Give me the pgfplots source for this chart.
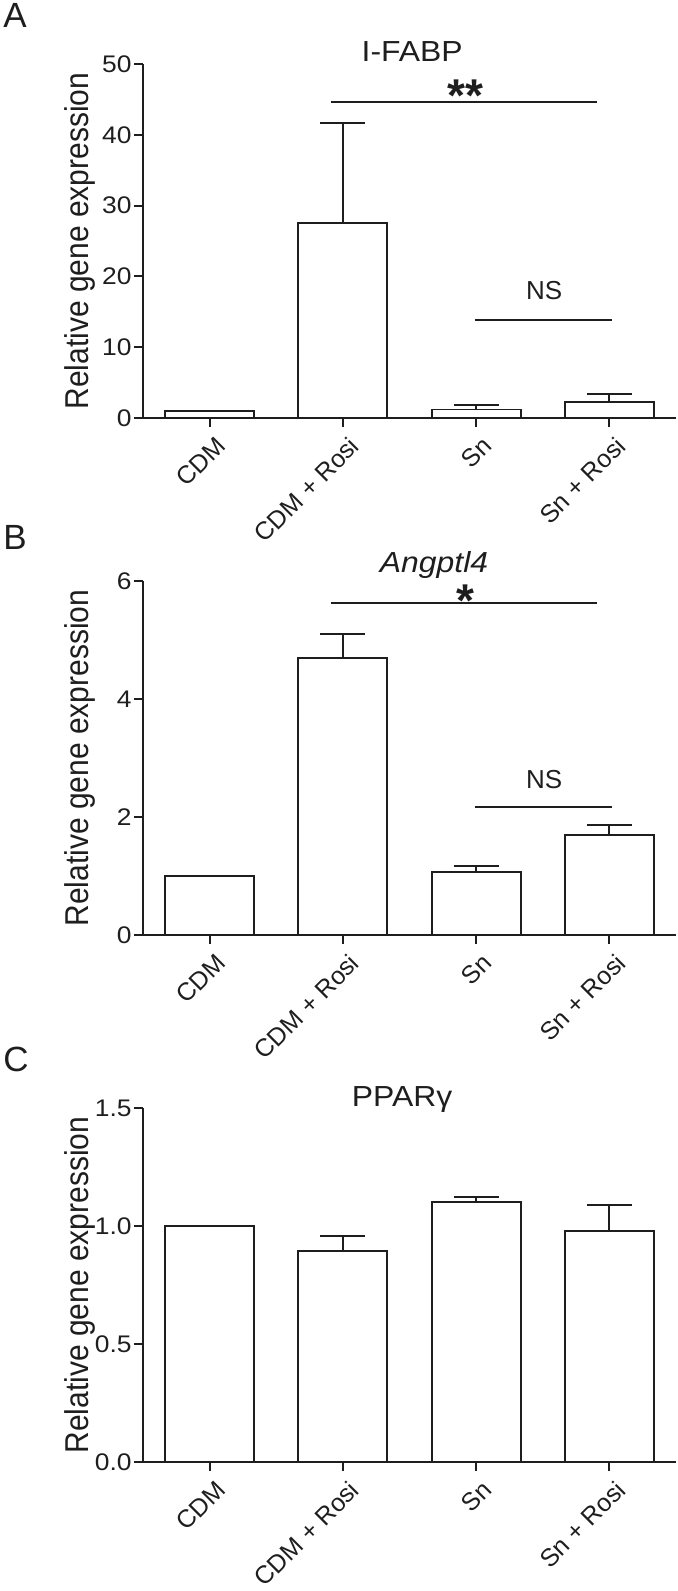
\documentclass[border=0pt]{standalone}
\usepackage{fontspec}
\setmainfont{Liberation Sans}
\usepackage{graphicx}
\usepackage{pgfplots}
\pgfplotsset{compat=1.18}
\usepackage{pgfplotstable}

\pgfplotstableread{
x y e
0 1.00 0
1 27.5 14.2
2 1.20 0.60
3 2.30 1.10
}\dataA
\pgfplotstableread{
x y e
0 1.00 0
1 4.70 0.41
2 1.07 0.10
3 1.69 0.175
}\dataB
\pgfplotstableread{
x y e
0 1.000 0
1 0.894 0.064
2 1.102 0.022
3 0.979 0.110
}\dataC

\newcommand{\hs}[1]{\scalebox{1.1}[1]{#1}}
\definecolor{ink}{RGB}{30,30,30}

\pgfplotsset{
  panel/.style={
    scale only axis, width=266.5pt, height=177pt,
    xmin=-0.5, xmax=3.5, ymin=0,
    axis x line*=bottom, axis y line*=left,
    axis line style={line width=1pt, -, ink},
    tick align=outside, major tick length=4.5pt,
    tick style={line width=1pt, ink},
    xtick={0,1,2,3},
    xticklabels={CDM, CDM + Rosi, Sn, Sn + Rosi},
    xticklabel style={rotate=45, anchor=north east, font=\fontsize{12.5}{13}\selectfont, inner sep=1pt, yshift=-3.5pt, text=ink},
    yticklabel style={font=\fontsize{12}{12}\selectfont, inner sep=1pt, text=ink},
    ylabel={\scalebox{1}[1.1]{Relative gene expression}},
    every axis y label/.style={at={(axis description cs:-0.118,0.5)}, anchor=center, rotate=90, font=\fontsize{15}{16}\selectfont, text=ink},
    every axis title/.style={anchor=base, font=\fontsize{14.5}{15}\selectfont, text=ink},
    clip=false,
    ybar, bar width=44.5pt,
  },
  barstyle/.style={
    draw=ink, fill=white, line width=0.9pt,
    error bars/.cd, y dir=plus, y explicit,
    error bar style={line width=1pt, ink},
    error mark options={rotate=90, mark size=11.25pt, line width=1pt, ink},
  },
}

\begin{document}
\begin{tikzpicture}
\useasboundingbox (0,0) rectangle (339pt,795.5pt);

\node[anchor=base west, font=\fontsize{17.5}{18}\selectfont, text=ink, inner sep=0pt] at (1.5pt,781.5pt) {A};
\node[anchor=base west, font=\fontsize{17.5}{18}\selectfont, text=ink, inner sep=0pt] at (1.5pt,520.5pt) {B};
\node[anchor=base west, font=\fontsize{17.5}{18}\selectfont, text=ink, inner sep=0pt] at (1.5pt,259.5pt) {C};

% Panel A
\begin{axis}[panel, at={(71.5pt,586.5pt)}, anchor=south west,
  ymax=50, ytick={0,10,20,30,40,50},
  yticklabels={\hs{0},\hs{10},\hs{20},\hs{30},\hs{40},\hs{50}},
  title={\hs{I-FABP}}, title style={at={(axis description cs:0.505,1.006)}}]
\addplot[barstyle] table[x=x, y=y, y error=e] {\dataA};
\draw[line width=1pt, ink] (axis cs:0.91,44.6) -- (axis cs:2.91,44.6);
\node[anchor=base, font=\fontsize{23}{23}\selectfont\bfseries, text=ink] at (axis cs:1.92,43.3) {**};
\draw[line width=1pt, ink] (axis cs:1.99,13.8) -- (axis cs:3.02,13.8);
\node[anchor=base, font=\fontsize{13}{13}\selectfont, text=ink] at (axis cs:2.51,16.7) {NS};
\end{axis}

% Panel B
\begin{axis}[panel, at={(71.5pt,328pt)}, anchor=south west,
  ymax=6, ytick={0,2,4,6},
  yticklabels={\hs{0},\hs{2},\hs{4},\hs{6}},
  title={\hs{\textit{Angptl4}}}, title style={at={(axis description cs:0.546,1.023)}}]
\addplot[barstyle] table[x=x, y=y, y error=e] {\dataB};
\draw[line width=1pt, ink] (axis cs:0.91,5.62) -- (axis cs:2.91,5.62);
\node[anchor=base, font=\fontsize{23}{23}\selectfont\bfseries, text=ink] at (axis cs:1.92,5.40) {*};
\draw[line width=1pt, ink] (axis cs:1.99,2.17) -- (axis cs:3.02,2.17);
\node[anchor=base, font=\fontsize{13}{13}\selectfont, text=ink] at (axis cs:2.51,2.48) {NS};
\end{axis}

% Panel C
\begin{axis}[panel, at={(71.5pt,64.5pt)}, anchor=south west,
  ymax=1.5, ytick={0,0.5,1,1.5},
  yticklabels={\hs{0.0},\hs{0.5},\hs{1.0},\hs{1.5}},
  title={\hs{PPARγ}}, title style={at={(axis description cs:0.486,1.003)}}]
\addplot[barstyle] table[x=x, y=y, y error=e] {\dataC};
\end{axis}
\end{tikzpicture}
\end{document}
